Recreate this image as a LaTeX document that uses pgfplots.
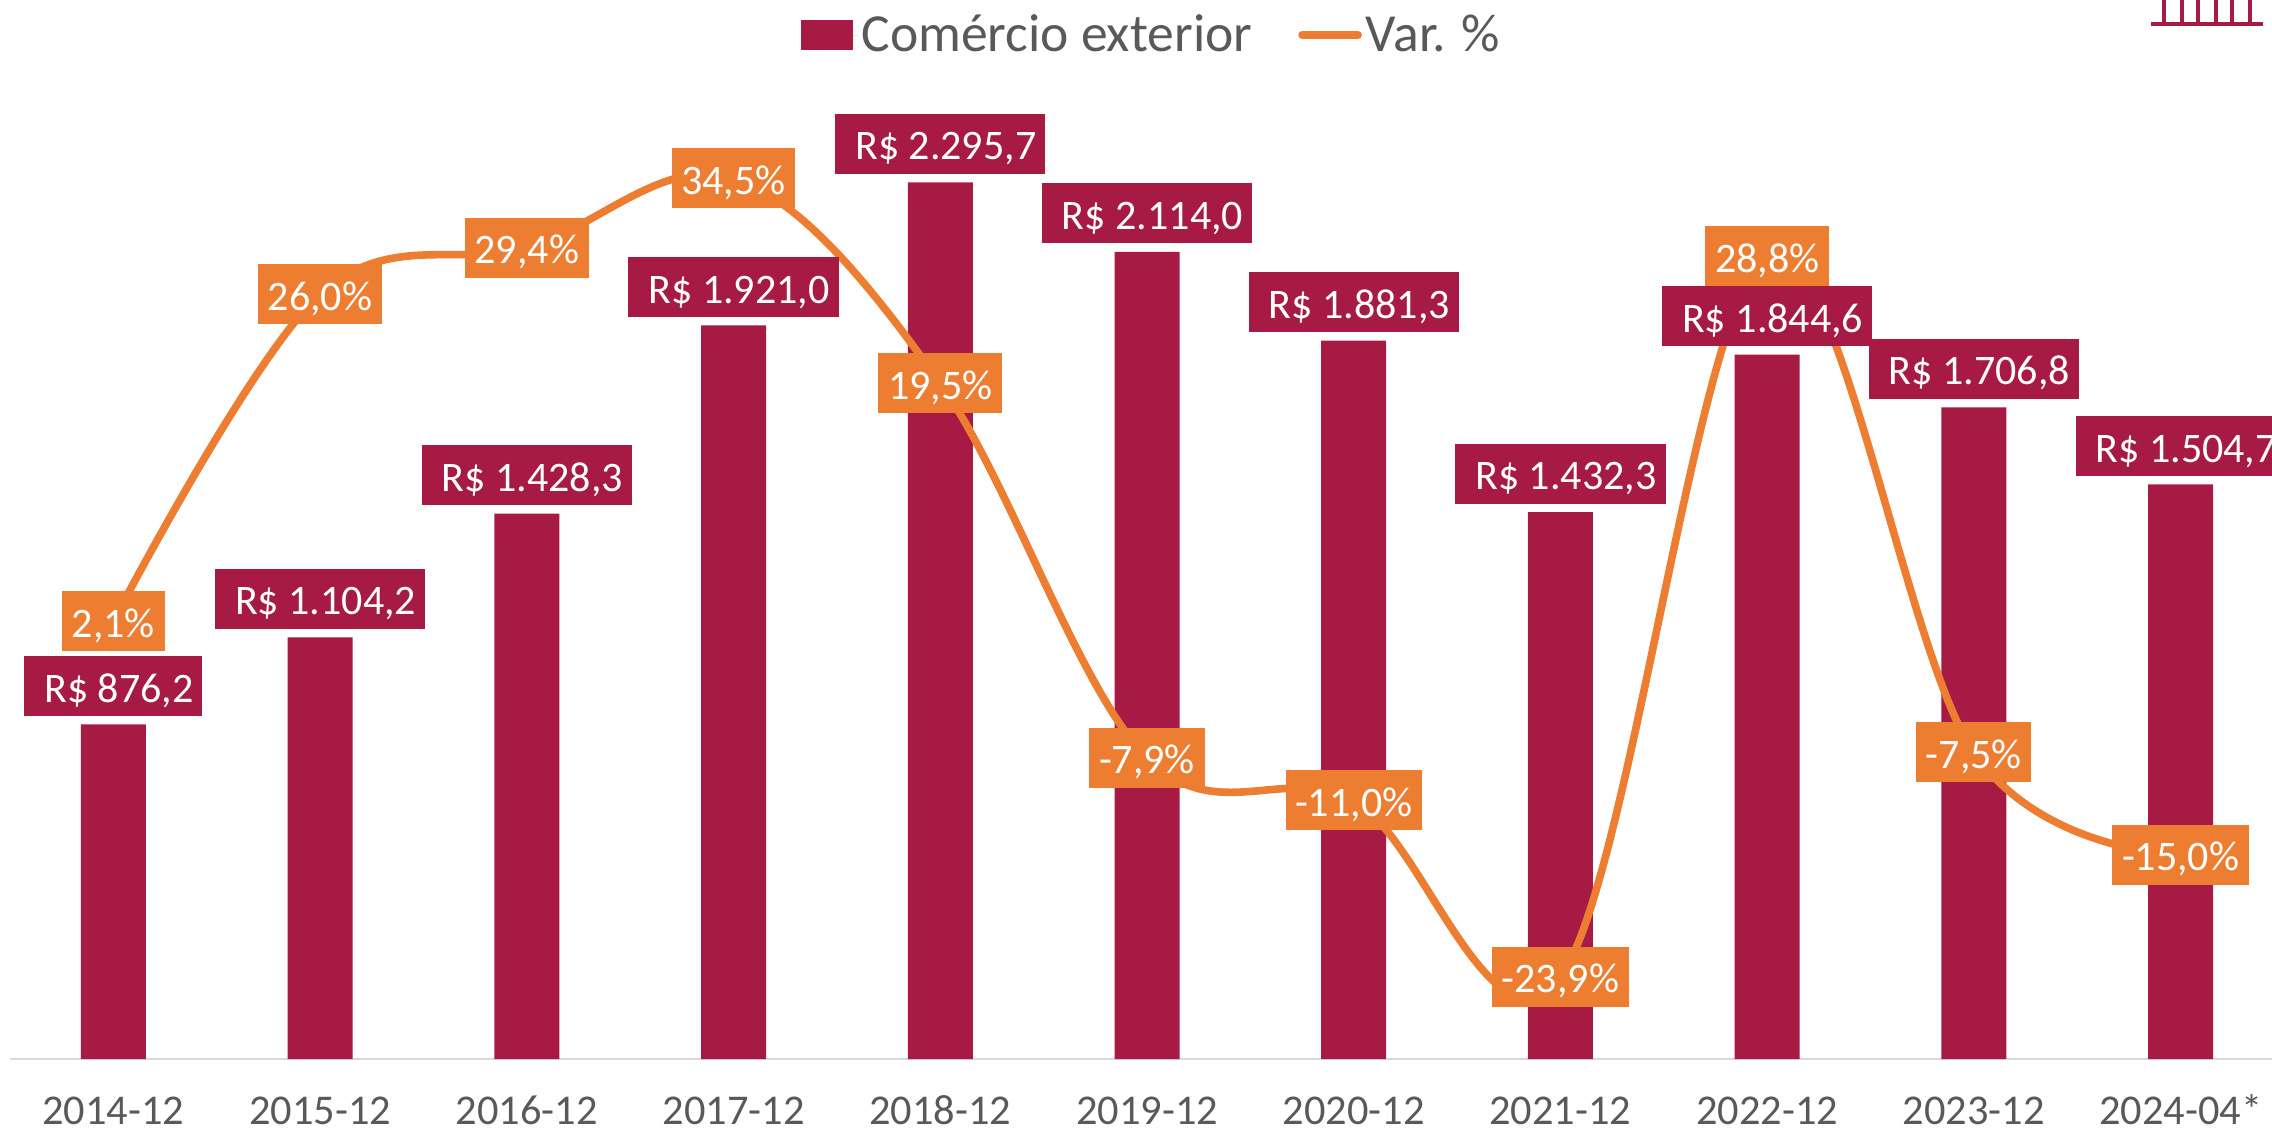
\documentclass[border=0pt]{standalone}
\usepackage{fontspec}
\setmainfont{Carlito}
\usepackage{pgfplots}
\pgfplotsset{compat=1.18}
\definecolor{barc}{HTML}{A61A43}
\definecolor{linec}{HTML}{ED7D31}
\definecolor{txtc}{HTML}{595959}
\definecolor{axc}{HTML}{D9D9D9}
\pgfplotsset{
  base/.style={
    at={(5pt,36pt)}, anchor=south west, scale only axis,
    width=1137pt, height=512.25pt,
    xmin=-0.5, xmax=10.5, clip=false,
  },
  numfmt/.style={
    /pgf/number format/assume math mode=true,
    /pgf/number format/fixed,
    /pgf/number format/fixed zerofill,
    /pgf/number format/precision=1,
    /pgf/number format/use comma,
    /pgf/number format/1000 sep={.},
  },
}
\begin{document}
\begin{tikzpicture}
\useasboundingbox (0,0) rectangle (1136pt,565.5pt);
% bars
\begin{axis}[base,
  ymin=0, ymax=2683,
  axis y line=none, axis x line*=bottom,
  axis line style={axc, line width=0.8pt},
  xtick={0,...,10},
  xticklabels={2014-12,2015-12,2016-12,2017-12,2018-12,2019-12,2020-12,2021-12,2022-12,2023-12,2024-04*},
  major tick length=0pt,
  xticklabel style={font=\fontsize{21.2}{21.2}\selectfont, text=txtc, yshift=-15pt, text height=14pt, text depth=0pt},
  legend columns=2,
  legend style={at={(axis description cs:0.5026,0.9995)}, anchor=center, draw=none, fill=none,
    font=\fontsize{26.8}{26.8}\selectfont, text=txtc,
    /tikz/every even column/.append style={column sep=21pt}},
]
\addplot[ybar, bar width=32.5pt, fill=barc, draw=none,
  legend image code/.code={\fill[barc] (0pt,-7.5pt) rectangle (26pt,7.5pt); \path (0pt,0pt) -- (28pt,0pt);}]
  coordinates {(0,876.2)(1,1104.2)(2,1428.3)(3,1921.0)(4,2295.7)(5,2114.0)(6,1881.3)(7,1432.3)(8,1844.6)(9,1706.8)(10,1504.7)};
\addlegendentry{Comércio exterior}
\addlegendimage{legend image code/.code={\draw[linec, line width=3.8pt, line cap=round] (0pt,0pt) -- (28pt,0pt);}}
\addlegendentry{Var. \%}
\end{axis}
% line with its labels
\begin{axis}[base, hide axis, numfmt,
  ymin=-29.92, ymax=45,
]
\addplot[linec, line width=3.8pt, smooth, tension=0.6, mark=none,
  nodes near coords={\pgfmathprintnumber{\pgfplotspointmeta}\%},
  every node near coord/.style={anchor=center, fill=linec, text=white, inner xsep=4.8pt, inner ysep=0pt,
    minimum height=30pt, text height=16pt, text depth=0pt, line width=0pt,
    font=\fontsize{21}{21}\selectfont},
  ]
  coordinates {(0,2.1)(1,26.0)(2,29.4)(3,34.5)(4,19.5)(5,-7.9)(6,-11.0)(7,-23.9)(8,28.8)(9,-7.5)(10,-15.0)};
\end{axis}
% bar labels, above the line
\begin{axis}[base, hide axis, numfmt,
  ymin=0, ymax=2683,
]
\addplot[draw=none, mark=none,
  nodes near coords={\hspace{5.5pt}R\$ \pgfmathprintnumber{\pgfplotspointmeta}},
  every node near coord/.style={anchor=south, yshift=4pt, fill=barc, text=white, inner xsep=4.5pt, inner ysep=0pt,
    minimum height=30pt, text height=16pt, text depth=0pt,
    font=\fontsize{21}{21}\selectfont},
  ]
  coordinates {(0,876.2)(1,1104.2)(2,1428.3)(3,1921.0)(4,2295.7)(5,2114.0)(6,1881.3)(7,1432.3)(8,1844.6)(9,1706.8)(10,1504.7)};
\end{axis}
% cropped logo, top right corner
\begin{scope}[x=0.5pt, y=0.5pt, barc]
  \draw[line width=2pt] (2151,1107) -- (2263,1107);
  \foreach \xx in {2164,2182,2198,2216,2232,2250}
    \draw[line width=1.6pt] (\xx,1107) -- (\xx,1131);
\end{scope}
\end{tikzpicture}
\end{document}
